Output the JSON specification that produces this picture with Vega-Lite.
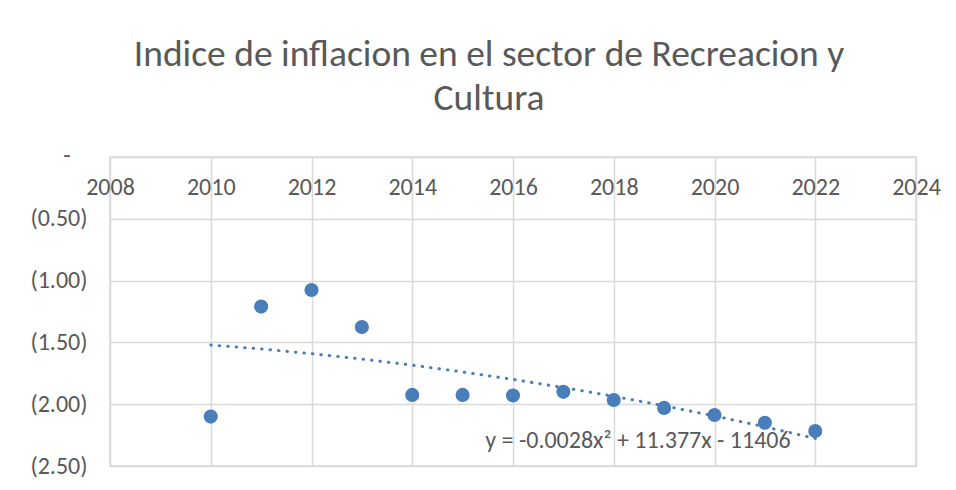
{
  "$schema": "https://vega.github.io/schema/vega-lite/v6.json",
  "width": 806,
  "height": 309,
  "autosize": {"type": "none"},
  "padding": {"left": 110, "top": 157, "right": 40, "bottom": 24},
  "background": "white",
  "title": {
    "text": ["Indice de inflacion en el sector de Recreacion y", "Cultura"],
    "fontSize": 37.5,
    "font": "Carlito, Calibri, Lato, sans-serif",
    "fontWeight": "normal",
    "color": "#595959",
    "anchor": "middle",
    "frame": "group",
    "dx": -24,
    "lineHeight": 44,
    "offset": 26
  },
  "config": {
    "view": {"stroke": "#d9d9d9", "strokeWidth": 1.5},
    "font": "Carlito, Calibri, Lato, sans-serif"
  },
  "datasets": {
    "pts": [
      {"year": 2010, "value": -2.10, "trend": -1.521},
      {"year": 2011, "value": -1.21, "trend": -1.553},
      {"year": 2012, "value": -1.076, "trend": -1.591},
      {"year": 2013, "value": -1.375, "trend": -1.635},
      {"year": 2014, "value": -1.925, "trend": -1.684},
      {"year": 2015, "value": -1.925, "trend": -1.739},
      {"year": 2016, "value": -1.93, "trend": -1.799},
      {"year": 2017, "value": -1.90, "trend": -1.865},
      {"year": 2018, "value": -1.966, "trend": -1.936},
      {"year": 2019, "value": -2.03, "trend": -2.013},
      {"year": 2020, "value": -2.087, "trend": -2.095},
      {"year": 2021, "value": -2.15, "trend": -2.183},
      {"year": 2022, "value": -2.217, "trend": -2.277}
    ],
    "eq": [
      {"year": 2018.48, "value": -2.298, "label": "y = -0.0028x² + 11.377x - 11406"}
    ]
  },
  "layer": [
    {
      "data": {"name": "pts"},
      "mark": {"type": "line", "color": "#4A7EBB", "strokeWidth": 3, "strokeDash": [0.5, 8], "strokeCap": "round"},
      "encoding": {
        "x": {
          "field": "year", "type": "quantitative",
          "scale": {"domain": [2008, 2024], "nice": false, "zero": false},
          "axis": {
            "orient": "bottom", "offset": -309,
            "values": [2008, 2010, 2012, 2014, 2016, 2018, 2020, 2022, 2024],
            "format": "d", "title": null,
            "ticks": false, "domain": false,
            "labelBaseline": "top", "labelPadding": 18,
            "labelFontSize": 24, "labelColor": "#595959",
            "labelFlush": false, "labelOverlap": false,
            "grid": true, "gridColor": "#d9d9d9", "gridWidth": 1.5
          }
        },
        "y": {
          "field": "trend", "type": "quantitative",
          "scale": {"domain": [-2.5, 0], "nice": false},
          "axis": {
            "values": [-2.5, -2, -1.5, -1, -0.5, 0],
            "title": null, "ticks": false, "domain": false,
            "labelExpr": "datum.value == 0 ? '-' : '(' + format(abs(datum.value), '.2f') + ')'",
            "labelPadding": {"condition": {"test": "datum.value == 0", "value": 40}, "value": 23},
            "labelOffset": {"condition": {"test": "datum.value == 0", "value": -2}, "value": 0},
            "labelFontSize": 24, "labelColor": "#595959",
            "labelBaseline": "middle",
            "grid": true, "gridColor": "#d9d9d9", "gridWidth": 1.5
          }
        }
      }
    },
    {
      "data": {"name": "pts"},
      "mark": {"type": "point", "filled": true, "shape": "circle", "size": 200, "color": "#4A7EBB", "opacity": 1},
      "encoding": {
        "x": {"field": "year", "type": "quantitative"},
        "y": {"field": "value", "type": "quantitative"}
      }
    },
    {
      "data": {"name": "eq"},
      "mark": {"type": "text", "fontSize": 24, "color": "#595959", "align": "center", "baseline": "middle"},
      "encoding": {
        "x": {"field": "year", "type": "quantitative"},
        "y": {"field": "value", "type": "quantitative"},
        "text": {"field": "label"}
      }
    }
  ]
}
